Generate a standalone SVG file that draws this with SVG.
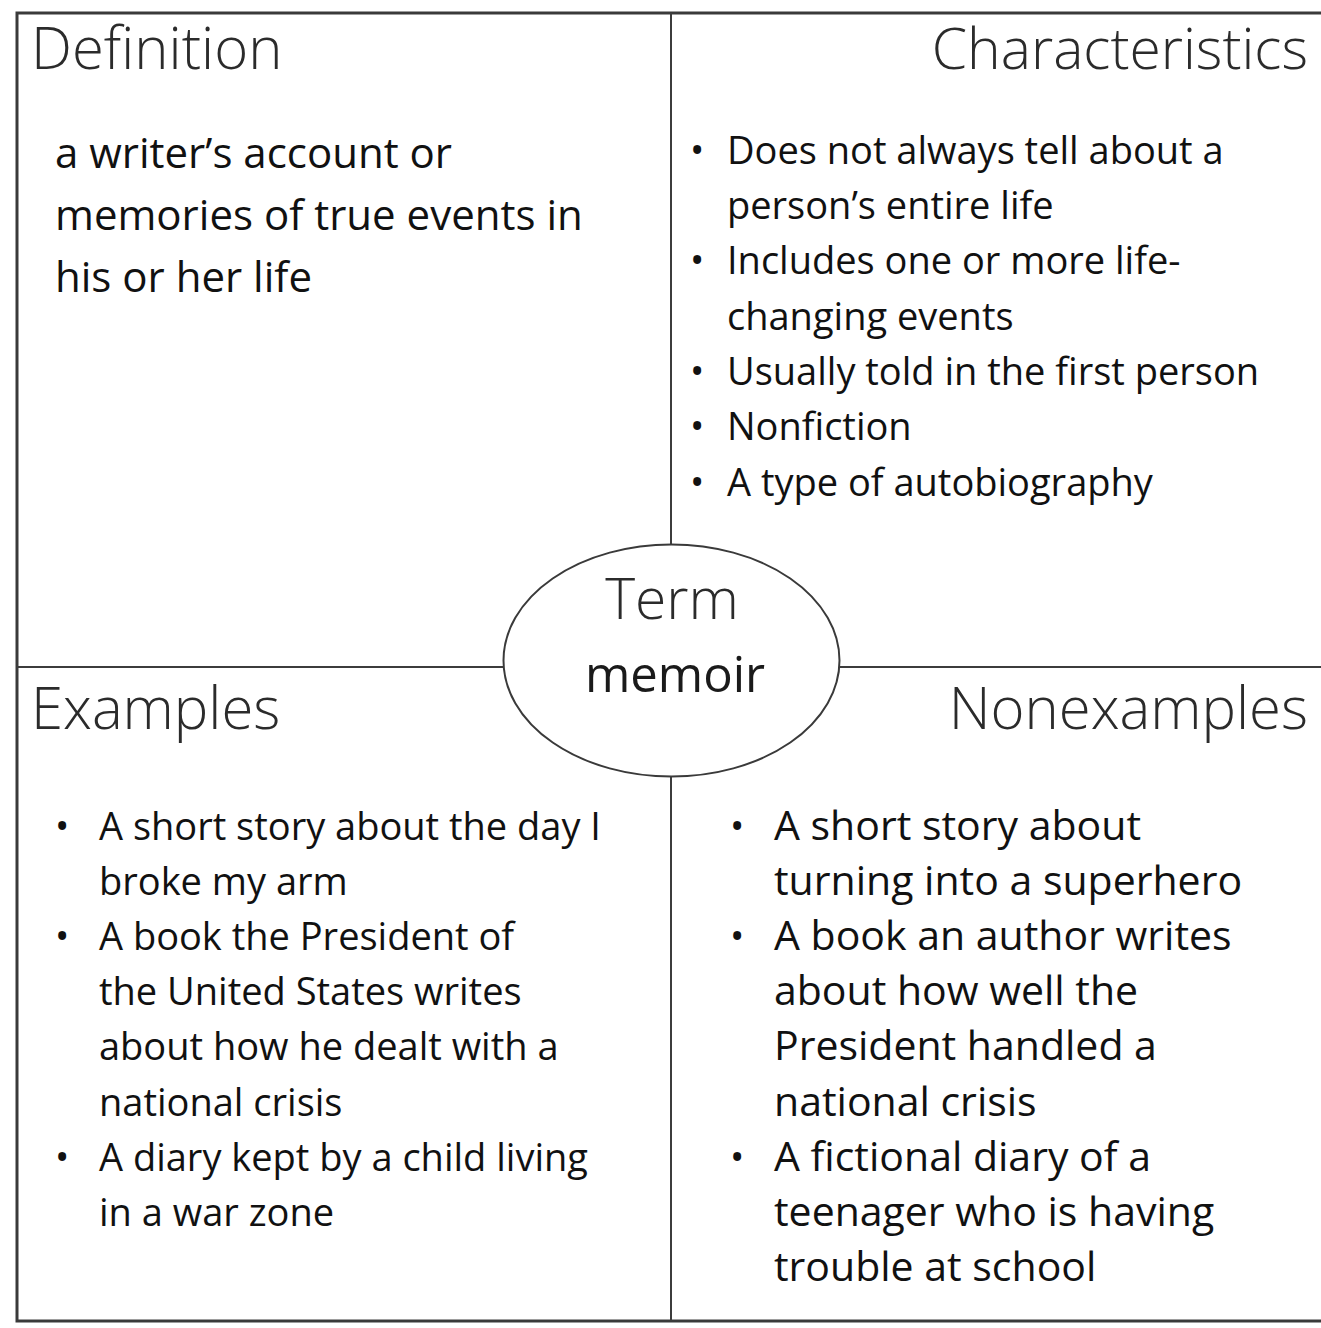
<svg xmlns="http://www.w3.org/2000/svg" width="1321" height="1328" viewBox="0 0 1321 1328">
  <style>
    .head { font-family: "Open Sans", "Noto Sans", sans-serif; font-weight: 300; font-size: 58px; fill: #2b2b2b; }
    .head.narrow { font-size: 57px; }
    .body { font-family: "Open Sans", "Noto Sans", sans-serif; font-weight: 400; font-size: 38px; fill: #111111; }
    .def  { font-size: 42px; }
    .big  { font-size: 41px; }
    .term { font-family: "Open Sans", "Noto Sans", sans-serif; font-weight: 300; font-size: 57px; fill: #2b2b2b; }
    .word { font-family: "Open Sans", "Noto Sans", sans-serif; font-weight: 500; font-size: 49px; fill: #1a1a1a; }
    .rule { stroke: #3c3c3c; stroke-width: 2; fill: none; }
    .frame { stroke: #3a3a3a; stroke-width: 3; fill: none; }
  </style>
  <rect width="1321" height="1328" fill="#ffffff"/>

  <!-- outer frame and quadrant dividers -->
  <g id="connectors">
    <rect class="frame" x="17" y="13" width="1320" height="1308"/>
    <line class="rule" x1="671" y1="13" x2="671" y2="1321"/>
    <line class="rule" x1="17" y1="667" x2="1321" y2="667"/>
  </g>

  <g id="definition">
    <text class="head" x="31" y="69">Definition</text>
    <text class="body def" x="55" y="168">a writer’s account or</text>
    <text class="body def" x="55" y="230">memories of true events in</text>
    <text class="body def" x="55" y="292">his or her life</text>
  </g>

  <g id="characteristics">
    <text class="head narrow" x="1308" y="69" text-anchor="end">Characteristics</text>
    <g class="body">
      <text x="690" y="164">•</text><text x="727" y="164">Does not always tell about a</text>
      <text x="727" y="219">person’s entire life</text>
      <text x="690" y="274">•</text><text x="727" y="274">Includes one or more life-</text>
      <text x="727" y="330">changing events</text>
      <text x="690" y="385">•</text><text x="727" y="385">Usually told in the first person</text>
      <text x="690" y="440">•</text><text x="727" y="440">Nonfiction</text>
      <text x="690" y="496">•</text><text x="727" y="496">A type of autobiography</text>
    </g>
  </g>

  <g id="examples">
    <text class="head" x="31" y="729">Examples</text>
    <g class="body">
      <text x="55" y="840">•</text><text x="99" y="840">A short story about the day I</text>
      <text x="99" y="895">broke my arm</text>
      <text x="55" y="950">•</text><text x="99" y="950">A book the President of</text>
      <text x="99" y="1005">the United States writes</text>
      <text x="99" y="1060">about how he dealt with a</text>
      <text x="99" y="1116">national crisis</text>
      <text x="55" y="1171">•</text><text x="99" y="1171">A diary kept by a child living</text>
      <text x="99" y="1226">in a war zone</text>
    </g>
  </g>

  <g id="nonexamples">
    <text class="head" x="1308" y="729" text-anchor="end">Nonexamples</text>
    <g class="body">
      <text x="730" y="840">•</text><text class="big" x="774" y="840">A short story about</text>
      <text class="big" x="774" y="895">turning into a superhero</text>
      <text x="730" y="950">•</text><text class="big" x="774" y="950">A book an author writes</text>
      <text class="big" x="774" y="1005">about how well the</text>
      <text class="big" x="774" y="1060">President handled a</text>
      <text class="big" x="774" y="1116">national crisis</text>
      <text x="730" y="1171">•</text><text class="big" x="774" y="1171">A fictional diary of a</text>
      <text class="big" x="774" y="1226">teenager who is having</text>
      <text class="big" x="774" y="1281">trouble at school</text>
    </g>
  </g>

  <g id="term">
    <ellipse cx="671.5" cy="660.5" rx="168" ry="116" fill="#ffffff" stroke="#3a3a3a" stroke-width="2"/>
    <text class="term" x="672" y="619" text-anchor="middle">Term</text>
    <text class="word" x="675" y="692" text-anchor="middle">memoir</text>
  </g>
</svg>
